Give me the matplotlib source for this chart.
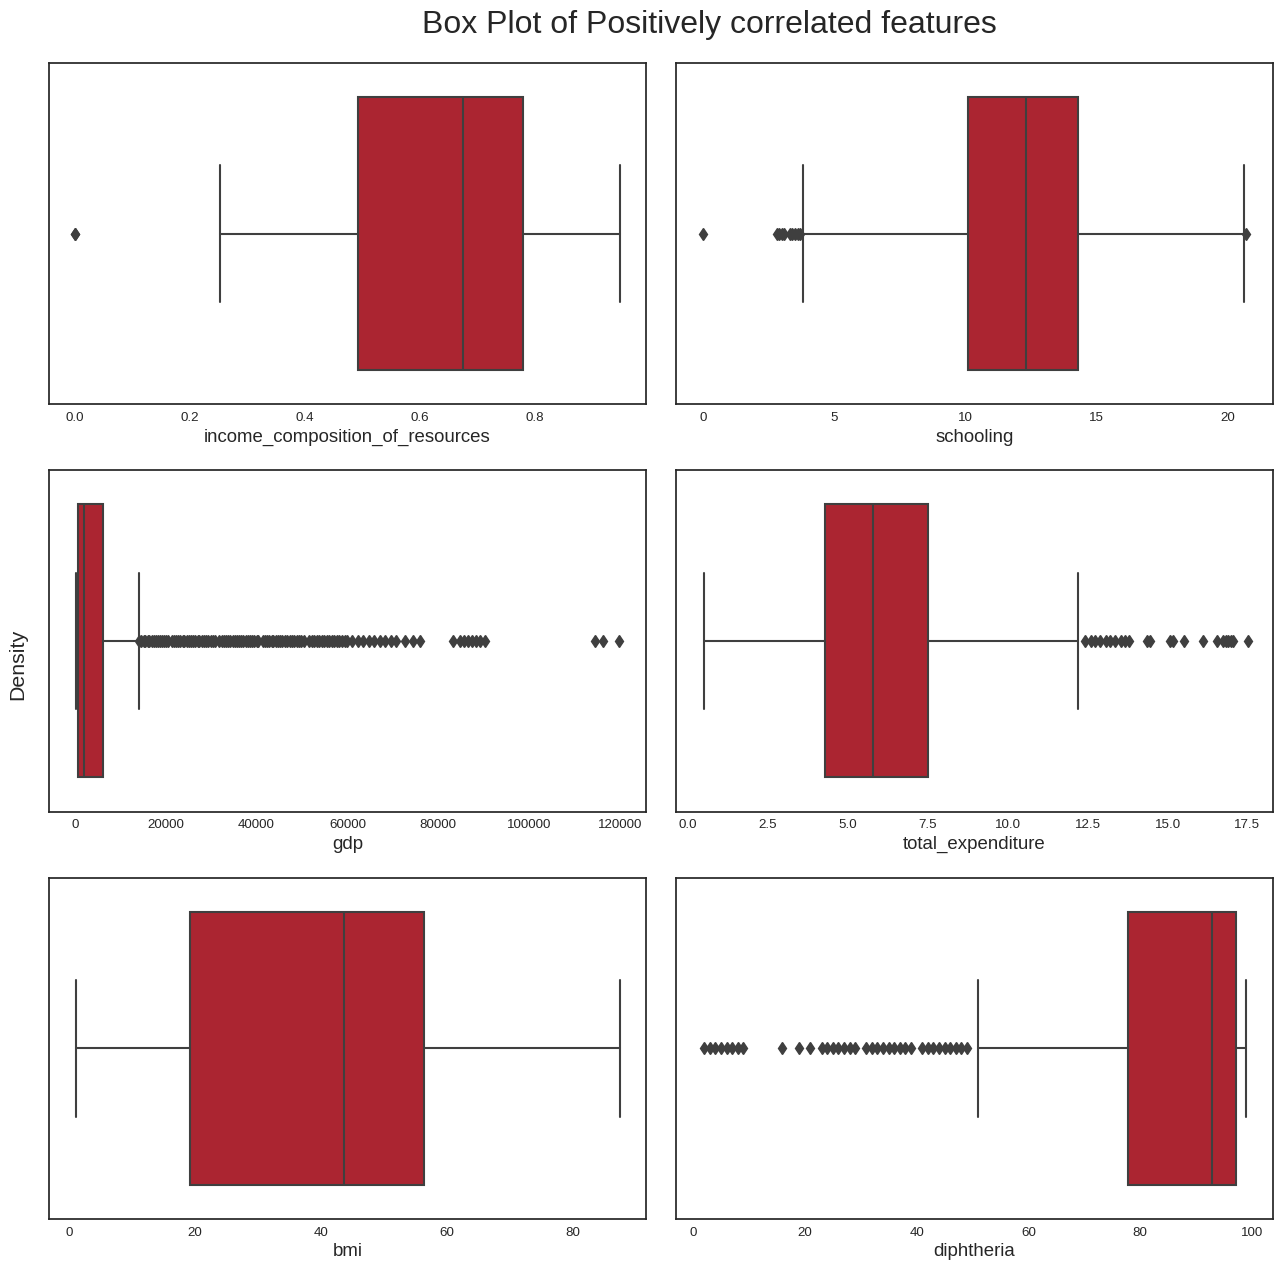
import matplotlib
matplotlib.use("Agg")
from matplotlib import pyplot as plt
import seaborn as sns

# summary stats: (whislo, q1, median, q3, whishi)
features = ["income_composition_of_resources", "schooling", "gdp",
            "total_expenditure", "bmi", "diphtheria"]

income_stats = [0.252, 0.492, 0.675, 0.779, 0.948]
income_fliers = [0.0, 0.0]

schooling_stats = [3.8, 10.1, 12.3, 14.3, 20.6]
schooling_fliers = [0.0, 2.8, 2.9, 3.0, 3.1, 3.3, 3.4, 3.5, 3.6, 3.7, 20.7]

gdp_stats = [220, 730, 2050, 6100, 14000]
gdp_fliers = [14200, 14600, 15100, 15500, 16000, 16400, 16900, 17300, 17800,
              18200, 18700, 19100, 19600, 20100, 20500, 21300, 21800, 22300,
              22700, 23200, 23700, 24100, 24600, 25100, 25500, 26000, 26500,
              27000, 27400, 27900, 28400, 28900, 29400, 29900, 30400, 30900,
              31800, 32300, 32800, 33300, 33700, 34200, 34700, 35200, 35700,
              36100, 36600, 37100, 37600, 38000, 38500, 39000, 39500, 40000,
              40400, 41300, 41800, 42300, 42800, 43300, 43700, 44200, 44700,
              45200, 45700, 46200, 46700, 47300, 47800, 48300, 48800, 49300,
              49800, 50400, 51600, 52100, 52600, 53200, 53700, 54300, 54800,
              55400, 55900, 56500, 57000, 57600, 58200, 58800, 59400, 60000,
              61100, 62300, 63500, 64700, 65900, 67100, 68300, 69500, 70700,
              72600, 74400, 76100, 83200, 84800, 85700, 86600, 87500, 88400,
              89300, 90300, 114600, 116200, 119800]

expenditure_stats = [0.5, 4.29, 5.79, 7.51, 12.21]
expenditure_fliers = [12.43, 12.59, 12.74, 12.9, 13.06, 13.21, 13.37, 13.53,
                      13.68, 13.78, 14.37, 14.46, 15.09, 15.18, 15.5, 16.12,
                      16.56, 16.75, 16.84, 16.9, 17.0, 17.06, 17.53]

bmi_stats = [1.1, 19.2, 43.6, 56.3, 87.4]
bmi_fliers = []

diphtheria_stats = [51.0, 77.8, 92.8, 97.1, 98.9]
diphtheria_fliers = [2, 3, 4, 5, 6, 7, 8, 9, 16, 19, 21, 23, 24, 25, 26, 27,
                     28, 29, 31, 32, 33, 34, 35, 36, 37, 38, 39, 41, 42, 43,
                     44, 45, 46, 47, 48, 49]

all_stats = [income_stats, schooling_stats, gdp_stats,
             expenditure_stats, bmi_stats, diphtheria_stats]
all_fliers = [income_fliers, schooling_fliers, gdp_fliers,
              expenditure_fliers, bmi_fliers, diphtheria_fliers]
xlims = [(-0.045, 0.993), (-1.03, 21.71), (-5730, 125770),
         (-0.38, 18.3), (-3.17, 91.6), (-3.04, 103.75)]

sns.set_style("white")
plt.rcParams['font.family'] = ['Liberation Sans', 'DejaVu Sans']

box_color = "#ab2531"
line_color = "#3f3f3f"

fig, axes = plt.subplots(3, 2, figsize=(12.83, 12.70), dpi=100)
fig.subplots_adjust(left=0.0382, right=0.9922, top=0.9504, bottom=0.0402,
                    wspace=0.0503, hspace=0.1935)

for ax, name, st, fl, xl in zip(axes.flat, features, all_stats, all_fliers, xlims):
    whislo, q1, med, q3, whishi = st
    stats = [dict(whislo=whislo, q1=q1, med=med, q3=q3, whishi=whishi, fliers=fl)]
    ax.bxp(stats, positions=[0], widths=0.8, orientation="horizontal",
           patch_artist=True, showfliers=True,
           boxprops=dict(facecolor=box_color, edgecolor=line_color, linewidth=1.5),
           medianprops=dict(color=line_color, linewidth=1.5),
           whiskerprops=dict(color=line_color, linewidth=1.5),
           capprops=dict(color=line_color, linewidth=1.5),
           flierprops=dict(marker="d", markersize=6, markerfacecolor=line_color,
                           markeredgecolor=line_color, linestyle="none"))
    ax.set_ylim(0.5, -0.5)
    ax.set_xlim(*xl)
    ax.set_yticks([])
    ax.set_xlabel(name, fontsize=13.4, labelpad=3.5)
    ax.tick_params(axis="x", labelsize=9.6, pad=2)
    for sp in ax.spines.values():
        sp.set_linewidth(1.25)

fig.suptitle("Box Plot of Positively correlated features", fontsize=23,
             x=0.553, y=0.992)
fig.text(0.014, 0.477, "Density", rotation=90, ha="center", va="center", fontsize=15.4)

fig.savefig("out.png", dpi=100)
